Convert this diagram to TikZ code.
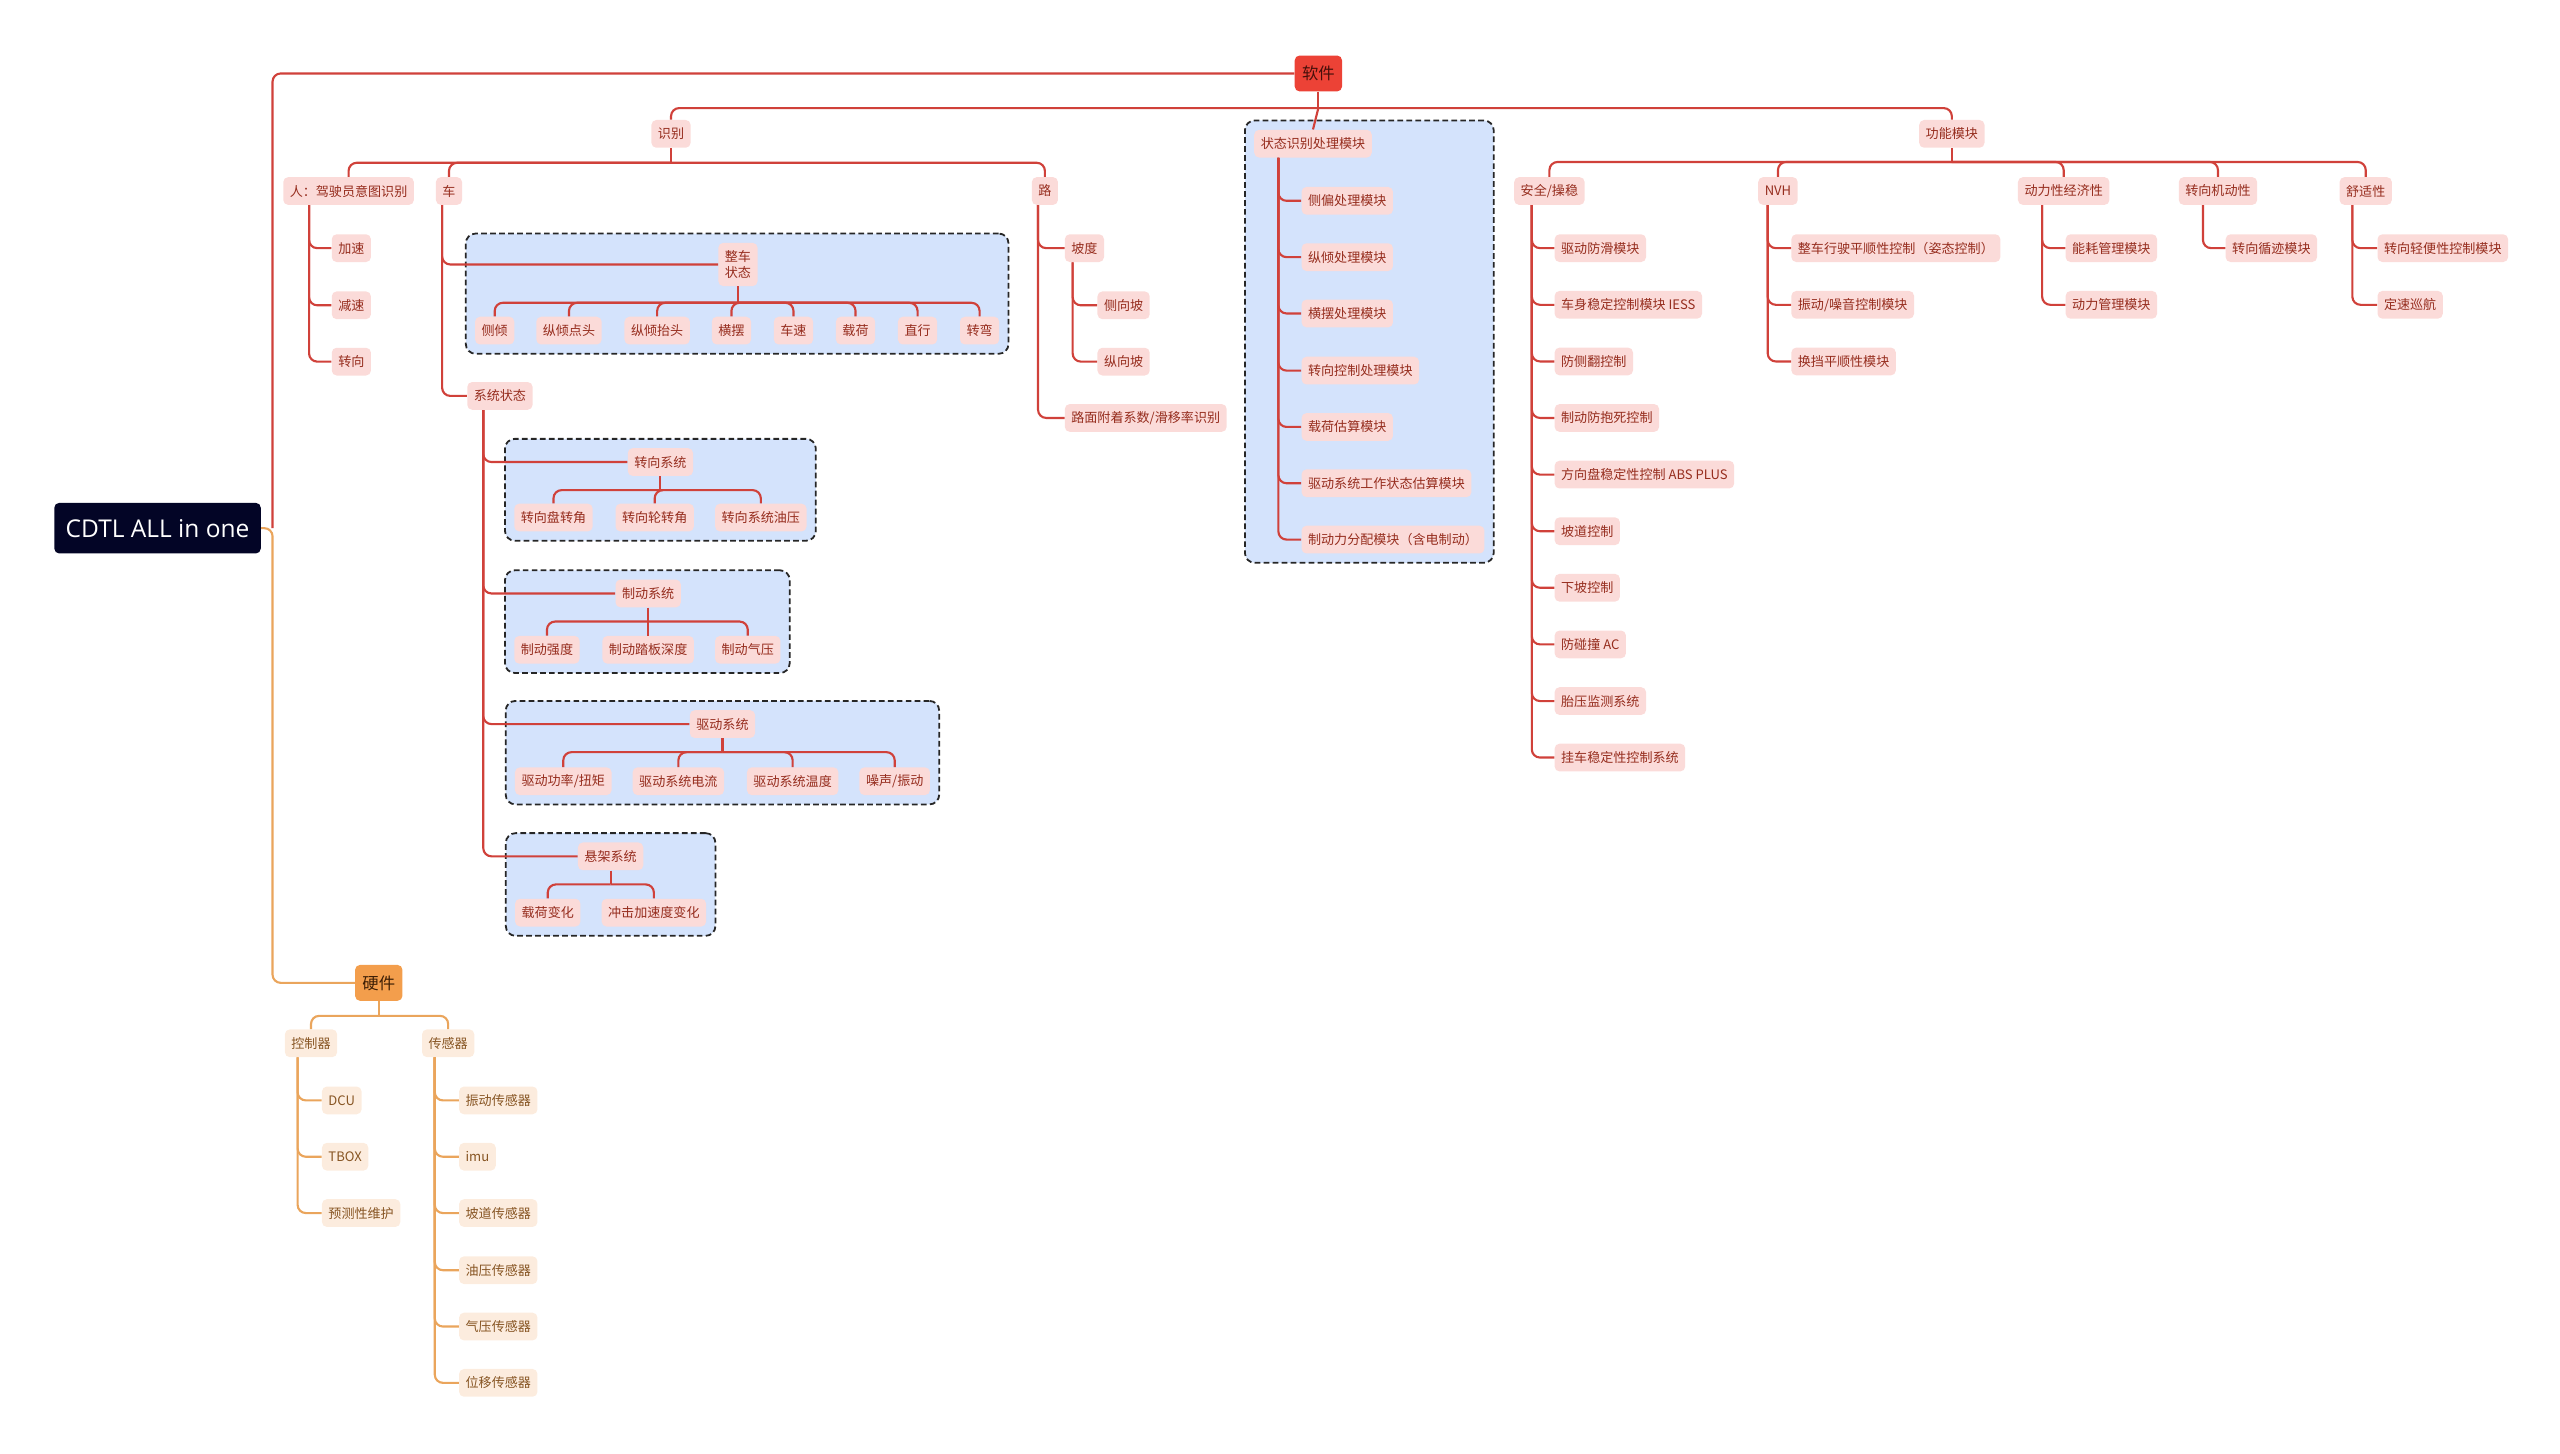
\documentclass[tikz,border=0pt]{standalone}
\usepackage{fontspec}
\usepackage{tikz}
\usetikzlibrary{positioning, fit, backgrounds}
\newfontfamily\cjk{Noto Sans CJK SC}
\newfontfamily\rootfont{Open Sans}
\definecolor{rootnavy}{RGB}{3,5,38}
\definecolor{swred}{RGB}{236,66,54}
\definecolor{swtext}{RGB}{70,15,10}
\definecolor{hworange}{RGB}{243,158,76}
\definecolor{hwtext}{RGB}{60,30,5}
\definecolor{lred}{RGB}{208,65,58}
\definecolor{lorange}{RGB}{234,165,92}
\definecolor{pinkfill}{RGB}{251,219,217}
\definecolor{pinktext}{RGB}{150,45,30}
\definecolor{creamfill}{RGB}{252,236,222}
\definecolor{creamtext}{RGB}{135,85,35}
\definecolor{grpblue}{RGB}{212,227,252}
\begin{document}
\begin{tikzpicture}[x=1pt, y=-1pt,
    rline/.style={draw=lred, line width=1.3pt, rounded corners=5pt},
    oline/.style={draw=lorange, line width=1.3pt, rounded corners=5pt},
    rbox/.style={fill=pinkfill, text=pinktext, rounded corners=3pt, font=\cjk\fontsize{8}{9.5}\selectfont,
        inner xsep=4pt, inner ysep=2pt, minimum height=17pt},
    obox/.style={rbox, fill=creamfill, text=creamtext},
    topbox/.style={rounded corners=3pt, font=\cjk\fontsize{10}{12}\selectfont, inner xsep=4.5pt, minimum height=22pt},
    grp/.style={draw=black!85, dash pattern=on 3.5pt off 2pt, fill=grpblue, rounded corners=6pt, line width=1.1pt, inner sep=5.5pt}]
\useasboundingbox (0,0) rectangle (1568,890);

% root and the two main branches
\node[fill=rootnavy, text=white, rounded corners=3pt, font=\rootfont\fontsize{15}{17}\selectfont,
    inner xsep=7pt, minimum height=31pt] (root) at (96.5,323.5) {CDTL ALL in one\hspace{8pt}};
\node[topbox, fill=swred, text=swtext] (ruanjian) at (807.5,45) {软件};
\node[topbox, fill=hworange, text=hwtext] (yingjian) at (232,602) {硬件};

% software
\node[rbox] (shibie) at (411,82) {识别};
\node[rbox] (gongneng) at (1195.5,82) {功能模块};
\node[rbox, anchor=west] (ztsb) at (768,88) {状态识别处理模块};

\node[rbox] (ren) at (213.5,117) {人：驾驶员意图识别};
\node[rbox] (che) at (275,117) {车};
\node[rbox] (lu) at (640,117) {路};

\node[rbox, anchor=west] (jiasu) at (203,152) {加速};
\node[rbox, anchor=west] (jiansu) at (203,187) {减速};
\node[rbox, anchor=west] (zhuanxiang) at (203,221.5) {转向};

\node[rbox, align=center, minimum height=26.5pt] (zczt) at (452,162) {整车\\状态};
\node[rbox] (ceqing) at (303,202.5) {侧倾};
\node[rbox] (zqdt) at (348.5,202.5) {纵倾点头};
\node[rbox] (zqtt) at (402.5,202.5) {纵倾抬头};
\node[rbox] (hengbai) at (448,202.5) {横摆};
\node[rbox] (chesu) at (486,202.5) {车速};
\node[rbox] (zaihe) at (524,202.5) {载荷};
\node[rbox] (zhixing) at (562,202.5) {直行};
\node[rbox] (zhuanwan) at (600,202.5) {转弯};

\node[rbox, anchor=west] (xtzt) at (286,242.5) {系统状态};
\node[rbox] (zxxt) at (404.5,283) {转向系统};
\node[rbox] (zxpzj) at (339,317) {转向盘转角};
\node[rbox] (zxlzj) at (401,317) {转向轮转角};
\node[rbox] (zxyy) at (466,317) {转向系统油压};
\node[rbox] (zdxt) at (397,363.5) {制动系统};
\node[rbox] (zdqd) at (335,398) {制动强度};
\node[rbox] (zdtb) at (397,398) {制动踏板深度};
\node[rbox] (zdqy) at (458,398) {制动气压};
\node[rbox] (qdxt) at (442.5,443.5) {驱动系统};
\node[rbox] (qdgl) at (345,478.5) {驱动功率/扭矩};
\node[rbox] (qddl) at (415.5,478.5) {驱动系统电流};
\node[rbox] (qdwd) at (485.5,478.5) {驱动系统温度};
\node[rbox] (zssd) at (548,478.5) {噪声/振动};
\node[rbox] (xjxt) at (374,524.5) {悬架系统};
\node[rbox] (zhbh) at (335.5,559) {载荷变化};
\node[rbox] (cjjs) at (400.5,559) {冲击加速度变化};

\node[rbox, anchor=west] (podu) at (652,152) {坡度};
\node[rbox, anchor=west] (cxp) at (672,187) {侧向坡};
\node[rbox, anchor=west] (zxp) at (672,221.5) {纵向坡};
\node[rbox, anchor=west] (lmfz) at (652,256) {路面附着系数/滑移率识别};

\node[rbox, anchor=west] (cpcl) at (797,123) {侧偏处理模块};
\node[rbox, anchor=west] (zqcl) at (797,157.5) {纵倾处理模块};
\node[rbox, anchor=west] (hbcl) at (797,192) {横摆处理模块};
\node[rbox, anchor=west] (zxkz) at (797,227) {转向控制处理模块};
\node[rbox, anchor=west] (zhgs) at (797,261.5) {载荷估算模块};
\node[rbox, anchor=west] (qdgz) at (797,296) {驱动系统工作状态估算模块};
\node[rbox, anchor=west] (zdlfp) at (797,330.5) {制动力分配模块（含电制动）};
\coordinate (g6r) at (906.5,330.5);

\node[rbox] (aqcw) at (949,117) {安全/操稳};
\node[rbox] (nvh) at (1089,117) {NVH};
\node[rbox] (dlxjjx) at (1264,117) {动力性经济性};
\node[rbox] (zxjdx) at (1358.5,117) {转向机动性};
\node[rbox] (sxx) at (1449,117) {舒适性};

\node[rbox, anchor=west] (qdfh) at (952,152) {驱动防滑模块};
\node[rbox, anchor=west] (cswd) at (952,186.7) {车身稳定控制模块 IESS};
\node[rbox, anchor=west] (fcf) at (952,221.4) {防侧翻控制};
\node[rbox, anchor=west] (zdfbs) at (952,256) {制动防抱死控制};
\node[rbox, anchor=west] (fxp) at (952,290.7) {方向盘稳定性控制 ABS PLUS};
\node[rbox, anchor=west] (pdkz) at (952,325.4) {坡道控制};
\node[rbox, anchor=west] (xpkz) at (952,360) {下坡控制};
\node[rbox, anchor=west] (fpz) at (952,394.7) {防碰撞 AC};
\node[rbox, anchor=west] (tyjc) at (952,429.4) {胎压监测系统};
\node[rbox, anchor=west] (gcwd) at (952,464) {挂车稳定性控制系统};

\node[rbox, anchor=west] (zcxs) at (1097,152) {整车行驶平顺性控制（姿态控制）};
\node[rbox, anchor=west] (zdzy) at (1097,186.7) {振动/噪音控制模块};
\node[rbox, anchor=west] (hdps) at (1097,221.4) {换挡平顺性模块};
\node[rbox, anchor=west] (nhgl) at (1265,152) {能耗管理模块};
\node[rbox, anchor=west] (dlgl) at (1265,186.7) {动力管理模块};
\node[rbox, anchor=west] (zxxj) at (1363,152) {转向循迹模块};
\node[rbox, anchor=west] (zxqb) at (1456,152) {转向轻便性控制模块};
\node[rbox, anchor=west] (dsxh) at (1456,186.7) {定速巡航};

% hardware
\node[obox] (kzq) at (190.5,639) {控制器};
\node[obox] (cgq) at (274.5,639) {传感器};
\node[obox, anchor=west] (dcu) at (197,674) {DCU};
\node[obox, anchor=west] (tbox) at (197,708.5) {TBOX};
\node[obox, anchor=west] (ycwh) at (197,743) {预测性维护};
\node[obox, anchor=west] (zdcgq) at (281,674) {振动传感器};
\node[obox, anchor=west] (imu) at (281,708.5) {imu};
\node[obox, anchor=west] (pdcgq) at (281,743) {坡道传感器};
\node[obox, anchor=west] (yycgq) at (281,778) {油压传感器};
\node[obox, anchor=west] (qycgq) at (281,812.5) {气压传感器};
\node[obox, anchor=west] (wycgq) at (281,847) {位移传感器};

% dashed groups
\begin{scope}[on background layer]
\node[grp, fit=(zczt)(ceqing)(zhuanwan)] (g1) {};
\node[grp, fit=(zxxt)(zxpzj)(zxyy)] (g2) {};
\node[grp, fit=(zdxt)(zdqd)(zdqy)] (g3) {};
\node[grp, fit=(qdxt)(qdgl)(zssd)] (g4) {};
\node[grp, fit=(xjxt)(zhbh)(cjjs)] (g5) {};
\node[grp, fit=(ztsb)(zdlfp)(g6r)] (g6) {};
\end{scope}

% connectors
\draw[oline] (root.east) -- ++(7,0) |- (yingjian.west);
\draw[rline] ([xshift=7pt]root.east) |- (ruanjian.west);

\path (ruanjian.south) ++(0,10) coordinate (b0);
\draw[rline] (ruanjian.south) -- (b0);
\draw[rline] (b0) -| (shibie.north);
\draw[rline] (b0) -| (gongneng.north);
\draw[rline] (b0) -- (ztsb.north);

\path (shibie.south) ++(0,9) coordinate (b1);
\draw[rline] (shibie.south) -- (b1);
\foreach \c in {ren,che,lu} \draw[rline] (b1) -| (\c.north);
\foreach \c in {jiasu,jiansu,zhuanxiang} \draw[rline] ([xshift=16pt]ren.south west) |- (\c.west);
\foreach \c in {zczt,xtzt} \draw[rline] ([xshift=4pt]che.south west) |- (\c.west);

\path (zczt.south) ++(0,10) coordinate (b2);
\draw[rline] (zczt.south) -- (b2);
\foreach \c in {ceqing,zqdt,zqtt,hengbai,chesu,zaihe,zhixing,zhuanwan} \draw[rline] (b2) -| (\c.north);

\foreach \c in {zxxt,zdxt,qdxt,xjxt} \draw[rline] ([xshift=10pt]xtzt.south west) |- (\c.west);
\path (zxxt.south) ++(0,8.5) coordinate (b3);
\draw[rline] (zxxt.south) -- (b3);
\foreach \c in {zxpzj,zxlzj,zxyy} \draw[rline] (b3) -| (\c.north);
\path (zdxt.south) ++(0,8.5) coordinate (b4);
\draw[rline] (zdxt.south) -- (b4);
\foreach \c in {zdqd,zdtb,zdqy} \draw[rline] (b4) -| (\c.north);
\path (qdxt.south) ++(0,8.5) coordinate (b5);
\draw[rline] (qdxt.south) -- (b5);
\foreach \c in {qdgl,qddl,qdwd,zssd} \draw[rline] (b5) -| (\c.north);
\path (xjxt.south) ++(0,8.5) coordinate (b6);
\draw[rline] (xjxt.south) -- (b6);
\foreach \c in {zhbh,cjjs} \draw[rline] (b6) -| (\c.north);

\foreach \c in {podu,lmfz} \draw[rline] ([xshift=4pt]lu.south west) |- (\c.west);
\foreach \c in {cxp,zxp} \draw[rline] ([xshift=5pt]podu.south west) |- (\c.west);

\foreach \c in {cpcl,zqcl,hbcl,zxkz,zhgs,qdgz,zdlfp} \draw[rline] ([xshift=15pt]ztsb.south west) |- (\c.west);

\path (gongneng.south) ++(0,8.5) coordinate (b7);
\draw[rline] (gongneng.south) -- (b7);
\foreach \c in {aqcw,nvh,dlxjjx,zxjdx,sxx} \draw[rline] (b7) -| (\c.north);
\foreach \c in {qdfh,cswd,fcf,zdfbs,fxp,pdkz,xpkz,fpz,tyjc,gcwd} \draw[rline] ([xshift=11pt]aqcw.south west) |- (\c.west);
\foreach \c in {zcxs,zdzy,hdps} \draw[rline] ([xshift=6pt]nvh.south west) |- (\c.west);
\foreach \c in {nhgl,dlgl} \draw[rline] ([xshift=15pt]dlxjjx.south west) |- (\c.west);
\draw[rline] ([xshift=15pt]zxjdx.south west) |- (zxxj.west);
\foreach \c in {zxqb,dsxh} \draw[rline] ([xshift=8pt]sxx.south west) |- (\c.west);

\path (yingjian.south) ++(0,9) coordinate (b8);
\draw[oline] (yingjian.south) -- (b8);
\foreach \c in {kzq,cgq} \draw[oline] (b8) -| (\c.north);
\foreach \c in {dcu,tbox,ycwh} \draw[oline] ([xshift=8pt]kzq.south west) |- (\c.west);
\foreach \c in {zdcgq,imu,pdcgq,yycgq,qycgq,wycgq} \draw[oline] ([xshift=8pt]cgq.south west) |- (\c.west);
\end{tikzpicture}
\end{document}
